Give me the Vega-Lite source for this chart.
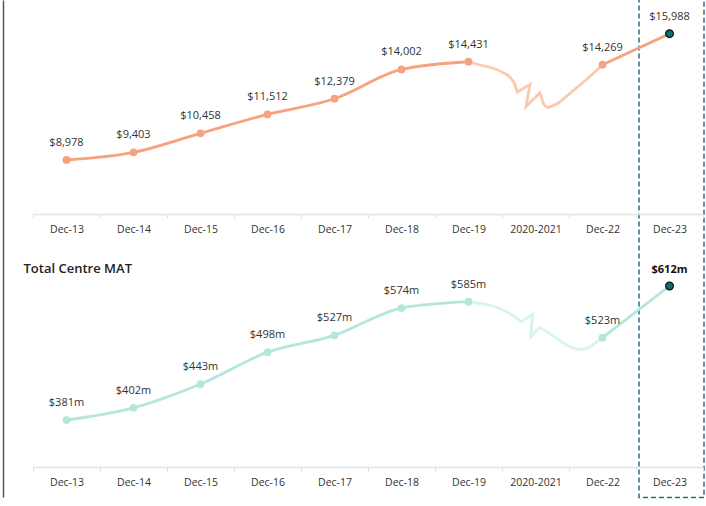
{
  "$schema": "https://vega.github.io/schema/vega-lite/v6.json",
  "width": 670,
  "height": 497,
  "autosize": "none",
  "padding": {"left": 33, "top": 0, "right": 3, "bottom": 9},
  "background": "white",
  "config": {"view": {"stroke": null}, "font": "Open Sans"},
  "datasets": {
    "upper": [
      {"cat": "Dec-13", "i": 0, "value": 8978, "label": "$8,978", "seg": "a"},
      {"cat": "Dec-14", "i": 1, "value": 9403, "label": "$9,403", "seg": "a"},
      {"cat": "Dec-15", "i": 2, "value": 10458, "label": "$10,458", "seg": "a"},
      {"cat": "Dec-16", "i": 3, "value": 11512, "label": "$11,512", "seg": "a"},
      {"cat": "Dec-17", "i": 4, "value": 12379, "label": "$12,379", "seg": "a"},
      {"cat": "Dec-18", "i": 5, "value": 14002, "label": "$14,002", "seg": "a"},
      {"cat": "Dec-19", "i": 6, "value": 14431, "label": "$14,431", "seg": "a"},
      {"cat": "Dec-22", "i": 8, "value": 14269, "label": "$14,269", "seg": "b"},
      {"cat": "Dec-23", "i": 9, "value": 15988, "label": "$15,988", "seg": "b"}
    ],
    "lower": [
      {"cat": "Dec-13", "i": 0, "value": 381, "label": "$381m", "seg": "a"},
      {"cat": "Dec-14", "i": 1, "value": 402, "label": "$402m", "seg": "a"},
      {"cat": "Dec-15", "i": 2, "value": 443, "label": "$443m", "seg": "a"},
      {"cat": "Dec-16", "i": 3, "value": 498, "label": "$498m", "seg": "a"},
      {"cat": "Dec-17", "i": 4, "value": 527, "label": "$527m", "seg": "a"},
      {"cat": "Dec-18", "i": 5, "value": 574, "label": "$574m", "seg": "a"},
      {"cat": "Dec-19", "i": 6, "value": 585, "label": "$585m", "seg": "a"},
      {"cat": "Dec-22", "i": 8, "value": 523, "label": "$523m", "seg": "b"},
      {"cat": "Dec-23", "i": 9, "value": 612, "label": "$612m", "seg": "b"}
    ],
    "upperBreak": [
      {"part": "a", "k": 0, "i": 6, "value": 14431},
      {"part": "a", "k": 1, "i": 6.172, "value": 14250},
      {"part": "a", "k": 2, "i": 6.37, "value": 14067},
      {"part": "a", "k": 3, "i": 6.519, "value": 13823},
      {"part": "a", "k": 4, "i": 6.619, "value": 13568},
      {"part": "a", "k": 5, "i": 6.679, "value": 13268},
      {"part": "a", "k": 6, "i": 6.728, "value": 12752},
      {"part": "z", "k": 0, "i": 6.728, "value": 12752},
      {"part": "z", "k": 1, "i": 6.918, "value": 13168},
      {"part": "z", "k": 2, "i": 6.858, "value": 11936},
      {"part": "z", "k": 3, "i": 7.067, "value": 12713},
      {"part": "z", "k": 4, "i": 7.116, "value": 12125},
      {"part": "c", "k": 0, "i": 7.116, "value": 12125},
      {"part": "c", "k": 1, "i": 7.176, "value": 11903},
      {"part": "c", "k": 2, "i": 7.316, "value": 12086},
      {"part": "c", "k": 3, "i": 7.515, "value": 12680},
      {"part": "c", "k": 4, "i": 7.764, "value": 13457},
      {"part": "c", "k": 5, "i": 8, "value": 14269}
    ],
    "lowerBreak": [
      {"part": "a", "k": 0, "i": 6, "value": 585},
      {"part": "a", "k": 1, "i": 6.172, "value": 581.8},
      {"part": "a", "k": 2, "i": 6.37, "value": 577.5},
      {"part": "a", "k": 3, "i": 6.57, "value": 567.5},
      {"part": "a", "k": 4, "i": 6.794, "value": 550.5},
      {"part": "z", "k": 0, "i": 6.794, "value": 550.5},
      {"part": "z", "k": 1, "i": 6.958, "value": 563.7},
      {"part": "z", "k": 2, "i": 6.928, "value": 524.6},
      {"part": "z", "k": 3, "i": 7.067, "value": 540.8},
      {"part": "c", "k": 0, "i": 7.067, "value": 540.8},
      {"part": "c", "k": 1, "i": 7.266, "value": 526},
      {"part": "c", "k": 2, "i": 7.466, "value": 510.3},
      {"part": "c", "k": 3, "i": 7.639, "value": 502.9},
      {"part": "c", "k": 4, "i": 7.788, "value": 505.5},
      {"part": "c", "k": 5, "i": 7.913, "value": 515.5},
      {"part": "c", "k": 6, "i": 8, "value": 523}
    ]
  },
  "layer": [
    {
      "data": {"name": "upper"},
      "mark": {"type": "rect", "opacity": 0},
      "encoding": {
        "x": {
          "field": "cat", "type": "ordinal",
          "scale": {"type": "band", "domain": ["Dec-13","Dec-14","Dec-15","Dec-16","Dec-17","Dec-18","Dec-19","2020-2021","Dec-22","Dec-23"], "paddingInner": 0, "paddingOuter": 0},
          "axis": {
            "orient": "bottom", "offset": -283, "tickBand": "extent", "ticks": true, "tickSize": 4, "tickColor": "#dddddd", "tickWidth": 1,
            "domainColor": "#e3e3e3", "domainWidth": 1.5, "grid": false,
            "labelFont": "Open Sans", "labelFontSize": 10.5, "labelColor": "#333333", "labelPadding": 14, "labelBaseline": "alphabetic", "labelAngle": 0,
            "title": "Total Centre MAT", "titleX": -10, "titleY": 58, "titleAlign": "left", "titleAnchor": "start", "titleBaseline": "alphabetic",
            "titleFont": "Open Sans", "titleFontSize": 13, "titleFontWeight": 600, "titleColor": "#222222"
          }
        }
      }
    },
    {
      "data": {"name": "upper"},
      "transform": [{"filter": "datum.cat === 'Dec-23'"}],
      "mark": {"type": "rect", "fill": "transparent", "stroke": "#23707f", "strokeWidth": 1.5, "strokeDash": [5, 3], "width": {"band": 0.97}, "xOffset": 2},
      "encoding": {
        "x": {
          "field": "cat", "type": "ordinal",
          "scale": {"type": "band", "domain": ["Dec-13","Dec-14","Dec-15","Dec-16","Dec-17","Dec-18","Dec-19","2020-2021","Dec-22","Dec-23"], "paddingInner": 0, "paddingOuter": 0},
          "axis": {
            "orient": "bottom", "offset": -30, "tickBand": "extent", "ticks": true, "tickSize": 4, "tickColor": "#dddddd", "tickWidth": 1,
            "domainColor": "#e3e3e3", "domainWidth": 1.5, "grid": false,
            "labelFont": "Open Sans", "labelFontSize": 10.5, "labelColor": "#333333", "labelPadding": 14, "labelBaseline": "alphabetic", "labelAngle": 0,
            "title": null
          }
        },
        "y": {"datum": 18600, "type": "quantitative", "scale": {"domain": [-9726, 17858], "nice": false, "zero": false}, "axis": null},
        "y2": {"datum": -9760}
      }
    },
    {
      "data": {"name": "upper"},
      "encoding": {
        "x": {"field": "i", "type": "quantitative", "scale": {"domain": [-0.5, 9.5], "nice": false, "zero": false}, "axis": null},
        "y": {"field": "value", "type": "quantitative", "scale": {"domain": [-9726, 17858], "nice": false, "zero": false},
              "axis": {"orient": "left", "domain": true, "domainColor": "#555555", "domainWidth": 1.5, "ticks": false, "labels": false, "grid": false, "title": null, "offset": 30}}
      },
      "layer": [
        {
          "data": {"name": "upperBreak"},
          "transform": [{"filter": "datum.part !== 'z'"}],
          "mark": {"type": "line", "interpolate": "monotone", "color": "#FCC9B0", "strokeWidth": 2.8, "strokeCap": "round"},
          "encoding": {"detail": {"field": "part"}}
        },
        {
          "data": {"name": "upperBreak"},
          "transform": [{"filter": "datum.part === 'z'"}],
          "mark": {"type": "line", "interpolate": "linear", "color": "#FCC9B0", "strokeWidth": 2.8, "strokeCap": "round"},
          "encoding": {"order": {"field": "k"}}
        },
        {
          "mark": {"type": "line", "interpolate": "monotone", "color": "#F6A27E", "strokeWidth": 2.8},
          "encoding": {"detail": {"field": "seg"}}
        },
        {
          "mark": {"type": "circle", "opacity": 1, "stroke": "#111111"},
          "encoding": {
            "size": {"value": 60},
            "color": {"condition": {"test": "datum.cat === 'Dec-23'", "value": "#0d6b78"}, "value": "#F6A27E"},
            "strokeWidth": {"condition": {"test": "datum.cat === 'Dec-23'", "value": 1.2}, "value": 0}
          }
        },
        {
          "mark": {"type": "text", "dy": -14, "fontSize": 11, "font": "Open Sans", "color": "#333333", "baseline": "alphabetic", "align": "center"},
          "encoding": {"text": {"field": "label"}}
        }
      ]
    },
    {
      "data": {"name": "lower"},
      "encoding": {
        "x": {"field": "i", "type": "quantitative", "scale": {"domain": [-0.5, 9.5], "nice": false, "zero": false}, "axis": null},
        "y": {"field": "value", "type": "quantitative", "scale": {"domain": [248.3, 1105], "nice": false, "zero": false}, "axis": null}
      },
      "layer": [
        {
          "data": {"name": "lowerBreak"},
          "transform": [{"filter": "datum.part !== 'z'"}],
          "mark": {"type": "line", "interpolate": "monotone", "color": "#D9F3ED", "strokeWidth": 2.8, "strokeCap": "round"},
          "encoding": {"detail": {"field": "part"}}
        },
        {
          "data": {"name": "lowerBreak"},
          "transform": [{"filter": "datum.part === 'z'"}],
          "mark": {"type": "line", "interpolate": "linear", "color": "#D9F3ED", "strokeWidth": 2.8, "strokeCap": "round"},
          "encoding": {"order": {"field": "k"}}
        },
        {
          "mark": {"type": "line", "interpolate": "monotone", "color": "#B3E7DB", "strokeWidth": 2.8},
          "encoding": {"detail": {"field": "seg"}}
        },
        {
          "mark": {"type": "circle", "opacity": 1, "stroke": "#111111"},
          "encoding": {
            "size": {"value": 60},
            "color": {"condition": {"test": "datum.cat === 'Dec-23'", "value": "#0d6b78"}, "value": "#B3E7DB"},
            "strokeWidth": {"condition": {"test": "datum.cat === 'Dec-23'", "value": 1.2}, "value": 0}
          }
        },
        {
          "transform": [{"filter": "datum.cat !== 'Dec-23'"}],
          "mark": {"type": "text", "dy": -14, "fontSize": 11, "font": "Open Sans", "color": "#333333", "baseline": "alphabetic", "align": "center"},
          "encoding": {"text": {"field": "label"}}
        },
        {
          "transform": [{"filter": "datum.cat === 'Dec-23'"}],
          "mark": {"type": "text", "dy": -13, "fontSize": 11, "font": "Open Sans", "fontWeight": "bold", "color": "#111111", "baseline": "alphabetic", "align": "center"},
          "encoding": {"text": {"field": "label"}}
        }
      ]
    }
  ],
  "resolve": {"scale": {"x": "independent", "y": "independent"}}
}
